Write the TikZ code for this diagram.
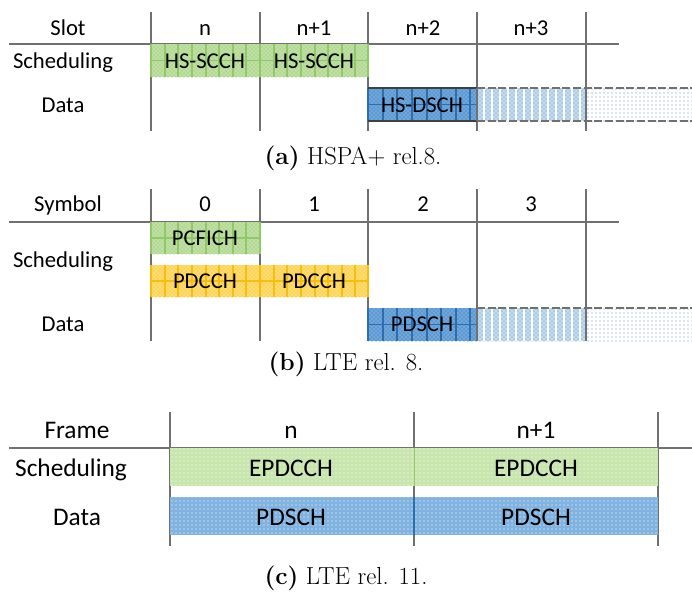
\documentclass[tikz,border=0pt]{standalone}
\usepackage{fontspec}
\newfontfamily\calfont{Carlito}
\usetikzlibrary{patterns}
\definecolor{gbase}{HTML}{BFE0A5}
\definecolor{gdot}{HTML}{8CC45E}
\definecolor{gline}{HTML}{92C86A}
\definecolor{obase}{HTML}{FFDB70}
\definecolor{odot}{HTML}{F5BE10}
\definecolor{bbase}{HTML}{6FA6DB}
\definecolor{bdot}{HTML}{2A6FB5}
\definecolor{bline}{HTML}{2E6EAD}
\definecolor{blight}{HTML}{C4DCF2}
\definecolor{cgreen}{HTML}{C8E5AE}
\definecolor{cblue}{HTML}{80B3DF}
\definecolor{rulec}{HTML}{707070}
\begin{document}
\begin{tikzpicture}[x=0.75pt,y=-0.75pt,
  lbl/.style={font=\calfont\fontsize{17}{20}\selectfont, inner sep=0, text height=11.5pt, text depth=0.5pt},
  lblc/.style={font=\calfont\fontsize{19}{22}\selectfont, inner sep=0, text height=12.5pt, text depth=0.5pt},
  capt/.style={font=\fontsize{18.5}{22}\selectfont, inner sep=0},
  rulel/.style={draw=rulec, line width=1pt},
  gbox/.style={fill=gbase},
  gpat/.style={pattern=crosshatch dots, pattern color=gdot},
  obox/.style={fill=obase},
  opat/.style={pattern=crosshatch dots, pattern color=odot},
  bbox/.style={fill=bbase},
  bpat/.style={pattern=crosshatch dots, pattern color=bdot},
  lpat/.style={pattern=crosshatch dots, pattern color=bdot!75},
]
\useasboundingbox (0,0) rectangle (692,593);

% ================= (a) =================
\foreach \x in {151,260,368,477,586} \draw[rulel] (\x,12) -- (\x,131);
\draw[rulel] (9,44) -- (619,44);
% scheduling
\fill[gbox] (151,44) rectangle (368,77);
\fill[gpat] (151,44) rectangle (368,77);
\foreach \x in {151,165,178,192,206,219,233,246,260,274,287,301,315,328,342,355,368}
  \draw[gline, line width=0.8pt] (\x,44) -- (\x,77);
\draw[gline, line width=0.8pt] (151,60.5) -- (368,60.5);
% data
\fill[bbox] (368,88) rectangle (477,121);
\fill[bpat] (368,88) rectangle (477,121);
\foreach \x in {368,383,397,412,427,441,456,470}
  \draw[bline, line width=0.8pt] (\x,88) -- (\x,121);
\draw[bline, line width=0.8pt] (368,104.5) -- (477,104.5);
\draw[black!75, line width=0.9pt] (368,88) -- (477,88) (368,121) -- (477,121);
\fill[blight] (477,88) rectangle (586,121);
\fill[lpat] (477,88) rectangle (586,121);
\foreach \x in {484,492,500,508,516,524,532,540,548,556,564,572,580}
  \draw[white, line width=1pt] (\x,88) -- (\x,121);
\fill[pattern=dots, pattern color=bdot!80] (586,88) rectangle (692,121);
\draw[rulec, dashed, dash pattern=on 6pt off 2pt, line width=0.9pt] (477,88) -- (692,88) (477,121) -- (692,121);
\draw[rulel] (477,88) -- (477,121) (586,88) -- (586,121);

\node[lbl] (aslot) at (68,28) {Slot};
\node[lbl] (an0) at (205,28) {n};
\node[lbl] (an1) at (314,28) {n+1};
\node[lbl] (an2) at (423,28) {n+2};
\node[lbl] (an3) at (531,28) {n+3};
\node[lbl] (asch) at (63,61) {Scheduling};
\node[lbl] (ahs1) at (205,61) {HS-SCCH};
\node[lbl] (ahs2) at (314,61) {HS-SCCH};
\node[lbl] (adata) at (63,105) {Data};
\node[lbl] (ahsd) at (422,105) {HS-DSCH};
\node[capt] (capa) at (353,158) {\textbf{(a)} HSPA+ rel.8.};

% ================= (b) =================
\foreach \x in {151,260,368,477,586} \draw[rulel] (\x,189) -- (\x,341);
\draw[rulel] (9,222) -- (619,222);
\fill[gbox] (151,222) rectangle (260,254);
\fill[gpat] (151,222) rectangle (260,254);
\foreach \x in {151,165,178,192,206,219,233,246,260}
  \draw[gline, line width=0.8pt] (\x,222) -- (\x,254);
\draw[gline, line width=0.8pt] (151,238) -- (260,238);
\fill[obox] (151,265) rectangle (368,297);
\fill[opat] (151,265) rectangle (368,297);
\foreach \x in {151,165,178,192,206,219,233,246,260,274,287,301,315,328,342,355,368}
  \draw[odot, line width=0.8pt] (\x,265) -- (\x,297);
\draw[odot, line width=0.8pt] (151,281) -- (368,281);
\fill[bbox] (368,308) rectangle (477,341);
\fill[bpat] (368,308) rectangle (477,341);
\foreach \x in {368,383,397,412,427,441,456,470}
  \draw[bline, line width=0.8pt] (\x,308) -- (\x,341);
\draw[bline, line width=0.8pt] (368,324.5) -- (477,324.5);
\fill[blight] (477,308) rectangle (586,341);
\fill[lpat] (477,308) rectangle (586,341);
\foreach \x in {484,492,500,508,516,524,532,540,548,556,564,572,580}
  \draw[white, line width=1pt] (\x,308) -- (\x,341);
\fill[pattern=dots, pattern color=bdot!80] (586,308) rectangle (692,341);
\draw[rulec, dashed, dash pattern=on 6pt off 2pt, line width=0.9pt] (477,308) -- (692,308);
\draw[rulel] (477,308) -- (477,341) (586,308) -- (586,341);

\node[lbl] (bsym) at (68,204) {Symbol};
\node[lbl] (bs0) at (205,204) {0};
\node[lbl] (bs1) at (314,204) {1};
\node[lbl] (bs2) at (423,204) {2};
\node[lbl] (bs3) at (531,204) {3};
\node[lbl] (bpcf) at (205,238) {PCFICH};
\node[lbl] (bsch) at (63,260) {Scheduling};
\node[lbl] (bpd1) at (205,281) {PDCCH};
\node[lbl] (bpd2) at (314,281) {PDCCH};
\node[lbl] (bdata) at (63,324) {Data};
\node[lbl] (bpds) at (422,324) {PDSCH};
\node[capt] (capb) at (346,364) {\textbf{(b)} LTE rel. 8.};

% ================= (c) =================
\foreach \x in {170,414,658} \draw[rulel] (\x,412) -- (\x,546);
\draw[rulel] (9,448) -- (692,448);
\fill[cgreen] (170,448) rectangle (658,486);
\fill[pattern=dots, pattern color=white] (170,448) rectangle (658,486);
\fill[cblue] (170,497) rectangle (658,535);
\fill[pattern=dots, pattern color=white] (170,497) rectangle (658,535);
\draw[bline, line width=0.8pt] (414,497) -- (414,535);
\draw[gline, line width=0.6pt] (414,448) -- (414,486);

\node[lblc] (cfr) at (77,430) {Frame};
\node[lblc] (cn0) at (291,430) {n};
\node[lblc] (cn1) at (536,430) {n+1};
\node[lblc] (csch) at (71,468) {Scheduling};
\node[lblc] (cep1) at (291,468) {EPDCCH};
\node[lblc] (cep2) at (536,468) {EPDCCH};
\node[lblc] (cdata) at (77,517) {Data};
\node[lblc] (cpd1) at (291,517) {PDSCH};
\node[lblc] (cpd2) at (536,517) {PDSCH};
\node[capt] (capc) at (346,578) {\textbf{(c)} LTE rel. 11.};
\end{tikzpicture}
\end{document}
